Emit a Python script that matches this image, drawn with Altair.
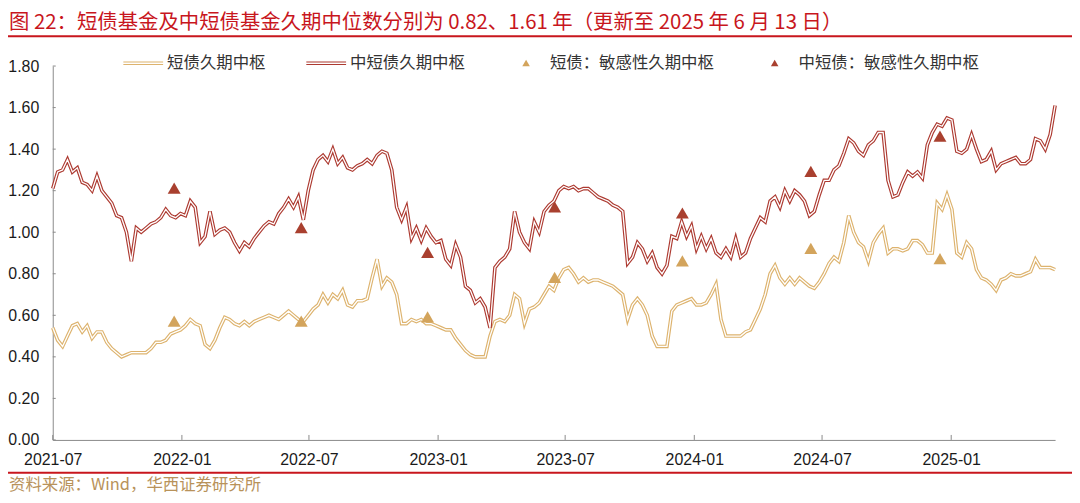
import altair as alt
import pandas as pd

# ---------------- data ----------------
START = "2021-07-01"
N_WEEKS = 205

short_dur = [
    0.54, 0.48, 0.45, 0.50, 0.55, 0.56, 0.52, 0.55, 0.49, 0.52,
    0.52, 0.47, 0.44, 0.42, 0.40, 0.41, 0.42, 0.42, 0.42, 0.42,
    0.44, 0.47, 0.47, 0.48, 0.51, 0.52, 0.53, 0.55, 0.58, 0.56,
    0.55, 0.46, 0.44, 0.48, 0.54, 0.59, 0.58, 0.56, 0.55, 0.57,
    0.55, 0.57, 0.58, 0.59, 0.60, 0.59, 0.58, 0.60, 0.62, 0.60,
    0.58, 0.57, 0.60, 0.63, 0.65, 0.70, 0.66, 0.70, 0.68, 0.72,
    0.65, 0.64, 0.67, 0.67, 0.68, 0.78, 0.87, 0.74, 0.78, 0.76,
    0.70, 0.56, 0.56, 0.58, 0.57, 0.58, 0.56, 0.56, 0.55, 0.54,
    0.53, 0.53, 0.49, 0.46, 0.43, 0.41, 0.40, 0.40, 0.40, 0.50,
    0.57, 0.58, 0.57, 0.60, 0.70, 0.68, 0.56, 0.63, 0.64, 0.66,
    0.70, 0.74, 0.72, 0.78, 0.82, 0.83, 0.80, 0.76, 0.78, 0.76,
    0.77, 0.77, 0.76, 0.75, 0.74, 0.72, 0.70, 0.58, 0.65, 0.68,
    0.65, 0.60, 0.50, 0.45, 0.45, 0.45, 0.62, 0.65, 0.66, 0.67,
    0.68, 0.65, 0.65, 0.66, 0.70, 0.75, 0.58, 0.50, 0.50, 0.50,
    0.50, 0.52, 0.53, 0.58, 0.63, 0.70, 0.80, 0.84, 0.78, 0.75,
    0.78, 0.75, 0.78, 0.76, 0.74, 0.73, 0.76, 0.80, 0.85, 0.88,
    0.86, 0.95, 1.08, 1.00, 0.95, 0.93, 0.86, 0.95, 0.99, 1.02,
    0.90, 0.92, 0.92, 0.91, 0.92, 0.96, 0.96, 0.94, 0.90, 0.90,
    1.14, 1.11, 1.18, 1.11, 0.90, 0.88, 0.95, 0.92, 0.82, 0.78,
    0.77, 0.75, 0.72, 0.77, 0.78, 0.80, 0.79, 0.79, 0.80, 0.81,
    0.87, 0.83, 0.83, 0.83, 0.82,
]

mid_short_dur = [
    1.21, 1.29, 1.30, 1.35, 1.29, 1.31, 1.24, 1.23, 1.20, 1.27,
    1.20, 1.17, 1.14, 1.08, 1.07, 1.00, 0.86, 1.02, 1.00, 1.02,
    1.04, 1.05, 1.07, 1.11, 1.08, 1.07, 1.09, 1.08, 1.15, 1.12,
    0.95, 0.98, 1.10, 0.99, 1.01, 1.02, 1.00, 0.95, 0.91, 0.95,
    0.93, 0.97, 1.00, 1.03, 1.05, 1.04, 1.09, 1.12, 1.16, 1.12,
    1.17, 1.06, 1.20, 1.30, 1.35, 1.37, 1.34, 1.40, 1.33, 1.36,
    1.31, 1.30, 1.32, 1.33, 1.35, 1.33, 1.37, 1.39, 1.38, 1.30,
    1.12, 1.06, 1.12, 0.97, 1.02, 0.96, 1.02, 0.98, 0.95, 0.96,
    0.87, 0.84, 0.94, 0.88, 0.74, 0.72, 0.66, 0.68, 0.64, 0.54,
    0.83, 0.86, 0.88, 0.92, 1.10, 1.00, 0.95, 0.92, 1.05, 1.00,
    1.10, 1.13, 1.15, 1.20, 1.22, 1.21, 1.22, 1.20, 1.21, 1.21,
    1.19, 1.17, 1.16, 1.15, 1.13, 1.12, 1.10, 0.85, 0.88, 0.95,
    0.92, 0.86, 0.90, 0.83, 0.80, 0.84, 0.98, 0.97, 1.05, 0.98,
    1.03, 0.92, 0.98, 0.92, 0.97, 0.90, 0.88, 0.92, 0.88, 0.97,
    0.88, 0.90, 0.97, 1.02, 1.07, 1.05, 1.15, 1.17, 1.12, 1.20,
    1.15, 1.20, 1.18, 1.15, 1.08, 1.10, 1.18, 1.25, 1.25, 1.30,
    1.32, 1.38, 1.45, 1.43, 1.39, 1.37, 1.42, 1.44, 1.48, 1.48,
    1.25, 1.17, 1.18, 1.24, 1.29, 1.27, 1.29, 1.26, 1.42, 1.48,
    1.52, 1.51, 1.55, 1.54, 1.39, 1.38, 1.40, 1.47, 1.40, 1.34,
    1.35, 1.39, 1.30, 1.33, 1.34, 1.35, 1.36, 1.33, 1.33, 1.35,
    1.45, 1.44, 1.40, 1.47, 1.61,
]

marker_dates = ["2021-12-21", "2022-06-20", "2022-12-17", "2023-06-16",
                "2023-12-15", "2024-06-15", "2024-12-16"]
short_sens = [0.57, 0.57, 0.59, 0.78, 0.86, 0.92, 0.87]
mid_short_sens = [1.21, 1.02, 0.90, 1.12, 1.09, 1.29, 1.46]

series_names = ["短债久期中枢", "中短债久期中枢",
                "短债：敏感性久期中枢", "中短债：敏感性久期中枢"]
series_colors = ["#DDB36E", "#AD3A31", "#D3A45C", "#A9402F"]

tick_dates = [(2021, 7), (2022, 1), (2022, 7), (2023, 1),
              (2023, 7), (2024, 1), (2024, 7), (2025, 1)]
y_ticks = [0.0, 0.2, 0.4, 0.6, 0.8, 1.0, 1.2, 1.4, 1.6, 1.8]

title_text = "图 22：短债基金及中短债基金久期中位数分别为 0.82、1.61 年（更新至 2025 年 6 月 13 日）"
source_text = "资料来源：Wind，华西证券研究所"

# ---------------- tables ----------------
dates = pd.date_range(START, periods=N_WEEKS, freq="7D").strftime("%Y-%m-%d")
lines_df = pd.concat([
    pd.DataFrame({"date": dates, "value": short_dur, "series": series_names[0]}),
    pd.DataFrame({"date": dates, "value": mid_short_dur, "series": series_names[1]}),
])
marks_df = pd.concat([
    pd.DataFrame({"date": marker_dates, "value": short_sens, "series": series_names[2]}),
    pd.DataFrame({"date": marker_dates, "value": mid_short_sens, "series": series_names[3]}),
])
xt_df = pd.DataFrame({"date": [f"{y}-{m:02d}-01" for y, m in tick_dates]})
yt_df = pd.DataFrame({"value": y_ticks})
one = pd.DataFrame({"d": [0]})

W, H = 1008, 376
AXIS_GREY = "#8a8a8a"
CJK = "Noto Sans CJK SC"
RED = "#C8161D"

x_scale = alt.Scale(type="utc", domain=[alt.DateTime(year=2021, month=7, date=1, utc=True),
                                        alt.DateTime(year=2025, month=5, date=29, utc=True)])
x_axis = alt.Axis(values=[alt.DateTime(year=y, month=m, date=1, utc=True) for y, m in tick_dates],
                  labelExpr="utcFormat(datum.value, '%Y-%m')", ticks=False, labelPadding=12,
                  domainColor=AXIS_GREY, labelFlush=False)
x_enc = alt.X("date:T", scale=x_scale, axis=x_axis, title=None)

y_scale = alt.Scale(domain=[0, 1.8], nice=False, zero=False)
y_axis = alt.Axis(values=y_ticks, format=".2f", ticks=False, labelPadding=14,
                  domainColor=AXIS_GREY)
y_enc = alt.Y("value:Q", scale=y_scale, axis=y_axis, title=None)

color_scale = alt.Scale(domain=series_names, range=series_colors)
line_sym = "M-1,-0.09H1V-0.035H-1Z M-1,0.035H1V0.09H-1Z"
tri_sym = "M0,-0.18L0.19,0.15L-0.19,0.15Z"
shape_scale = alt.Scale(domain=series_names, range=[line_sym, line_sym, tri_sym, tri_sym])

legend_def = alt.Legend(orient="none", legendX=71, legendY=-23,
                        direction="horizontal", title=None,
                        symbolSize=1600, symbolStrokeWidth=0,
                        labelFont=CJK, labelFontSize=16.5, labelColor="#333333",
                        labelLimit=400, labelOffset=4, columnPadding=41)

outer_short = alt.Chart(lines_df).transform_filter(
    alt.datum.series == series_names[0]
).mark_line(strokeWidth=3.6, color=series_colors[0]).encode(x=x_enc, y=y_enc)
outer_mid = alt.Chart(lines_df).transform_filter(
    alt.datum.series == series_names[1]
).mark_line(strokeWidth=3.6, color=series_colors[1]).encode(x=x_enc, y=y_enc)
inner = alt.Chart(lines_df).mark_line(strokeWidth=1.3, color="white").encode(
    x=x_enc, y=y_enc, detail="series:N",
)
points = alt.Chart(marks_df).mark_point(filled=True, size=4680, opacity=1, strokeWidth=0).encode(
    x=x_enc, y=y_enc,
    color=alt.Color("series:N", scale=color_scale, legend=legend_def),
    shape=alt.Shape("series:N", scale=shape_scale, legend=legend_def),
)
x_ticks = alt.Chart(xt_df).mark_rule(color=AXIS_GREY, strokeWidth=1).encode(
    x=x_enc, y=alt.value(H - 5), y2=alt.value(H),
)
y_tick_marks = alt.Chart(yt_df).mark_rule(color=AXIS_GREY, strokeWidth=1).encode(
    y=y_enc, x=alt.value(0), x2=alt.value(3),
)
top_rule = alt.Chart(one).mark_rule(color=RED, strokeWidth=2).encode(
    x=alt.value(-45), x2=alt.value(W + 17), y=alt.value(-30),
)
bottom_rule = alt.Chart(one).mark_rule(color=RED, strokeWidth=2).encode(
    x=alt.value(-45), x2=alt.value(W + 17), y=alt.value(409),
)
title = alt.Chart(one).mark_text(align="left", baseline="middle", font=CJK,
                                 fontSize=20.5, color=RED).encode(
    x=alt.value(-44), y=alt.value(-43), text=alt.value(title_text),
)
source = alt.Chart(one).mark_text(align="left", baseline="middle", font=CJK,
                                  fontSize=16.5, color="#B8925A").encode(
    x=alt.value(-44), y=alt.value(421), text=alt.value(source_text),
)

chart = alt.layer(outer_short, outer_mid, inner, points, x_ticks, y_tick_marks,
                  top_rule, bottom_rule, title, source).properties(
    width=W, height=H,
    padding={"left": 45, "top": 57, "right": 17, "bottom": 53},
    autosize=alt.AutoSizeParams(type="none"),
).configure_view(stroke=None).configure_axis(
    grid=False, labelFont="Liberation Sans", labelFontSize=16, labelColor="#1a1a1a",
)

chart.save("out.html", embed_options={"renderer": "svg", "actions": False})
